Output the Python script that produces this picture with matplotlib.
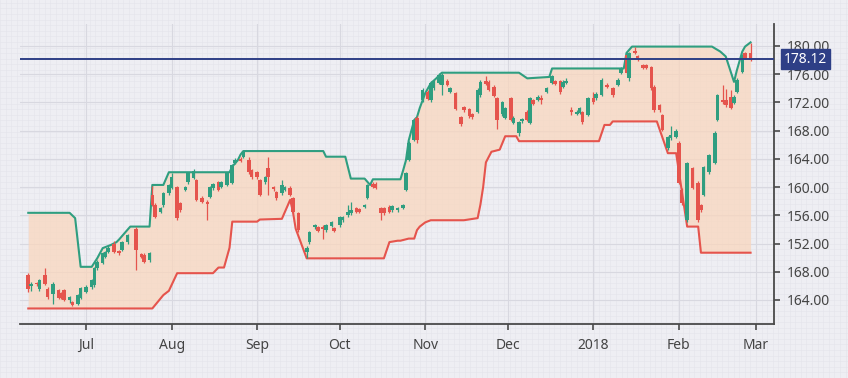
import matplotlib
matplotlib.use('Agg')
import matplotlib.pyplot as plt
import matplotlib.dates as mdates
import matplotlib.transforms as mtransforms
from matplotlib.ticker import MultipleLocator
import numpy as np
import pandas as pd

# --- candles ---
dates = ['2017-06-10', '2017-06-11', '2017-06-13', '2017-06-14', '2017-06-16', '2017-06-17',
         '2017-06-19', '2017-06-21', '2017-06-22', '2017-06-23', '2017-06-25', '2017-06-26',
         '2017-06-28', '2017-06-29', '2017-07-01', '2017-07-03', '2017-07-04', '2017-07-05',
         '2017-07-07', '2017-07-08', '2017-07-09', '2017-07-11', '2017-07-13', '2017-07-14',
         '2017-07-16', '2017-07-19', '2017-07-21', '2017-07-22', '2017-07-24', '2017-07-25',
         '2017-07-26', '2017-07-28', '2017-07-29', '2017-07-31', '2017-08-01', '2017-08-03',
         '2017-08-04', '2017-08-06', '2017-08-07', '2017-08-09', '2017-08-10', '2017-08-12',
         '2017-08-14', '2017-08-15', '2017-08-16', '2017-08-18', '2017-08-19', '2017-08-21',
         '2017-08-23', '2017-08-24', '2017-08-26', '2017-08-27', '2017-08-29', '2017-08-30',
         '2017-09-01', '2017-09-02', '2017-09-04', '2017-09-05', '2017-09-07', '2017-09-08',
         '2017-09-10', '2017-09-11', '2017-09-13', '2017-09-14', '2017-09-16', '2017-09-19',
         '2017-09-20', '2017-09-22', '2017-09-23', '2017-09-25', '2017-09-26', '2017-09-28',
         '2017-09-29', '2017-10-01', '2017-10-02', '2017-10-04', '2017-10-05', '2017-10-07',
         '2017-10-08', '2017-10-10', '2017-10-11', '2017-10-13', '2017-10-14', '2017-10-16',
         '2017-10-17', '2017-10-19', '2017-10-20', '2017-10-22', '2017-10-24', '2017-10-25',
         '2017-10-26', '2017-10-28', '2017-10-29', '2017-10-31', '2017-11-02', '2017-11-03',
         '2017-11-04', '2017-11-06', '2017-11-07', '2017-11-09', '2017-11-10', '2017-11-12',
         '2017-11-14', '2017-11-15', '2017-11-17', '2017-11-18', '2017-11-20', '2017-11-21',
         '2017-11-23', '2017-11-24', '2017-11-26', '2017-11-27', '2017-11-29', '2017-11-30',
         '2017-12-02', '2017-12-03', '2017-12-05', '2017-12-06', '2017-12-08', '2017-12-09',
         '2017-12-10', '2017-12-12', '2017-12-13', '2017-12-15', '2017-12-17', '2017-12-18',
         '2017-12-20', '2017-12-21', '2017-12-22', '2017-12-24', '2017-12-26', '2017-12-27',
         '2017-12-28', '2017-12-30', '2018-01-01', '2018-01-02', '2018-01-04', '2018-01-06',
         '2018-01-08', '2018-01-10', '2018-01-11', '2018-01-13', '2018-01-14', '2018-01-16',
         '2018-01-17', '2018-01-19', '2018-01-20', '2018-01-22', '2018-01-23', '2018-01-25',
         '2018-01-26', '2018-01-28', '2018-01-29', '2018-01-31', '2018-02-01', '2018-02-02',
         '2018-02-04', '2018-02-06', '2018-02-08', '2018-02-09', '2018-02-10', '2018-02-12',
         '2018-02-14', '2018-02-15', '2018-02-17', '2018-02-18', '2018-02-20', '2018-02-21',
         '2018-02-22', '2018-02-24', '2018-02-25', '2018-02-27']

opens = [147.5, 146.0, 146.3, 145.5, 147.5, 145.6, 144.8, 145.4, 145.0, 145.4, 144.0, 143.7,
         143.5, 144.3, 145.2, 145.8, 146.1, 148.5, 149.3, 150.1, 150.8, 152.0, 150.9, 151.1,
         152.2, 154.0, 150.5, 150.4, 149.6, 158.9, 157.5, 156.5, 157.4, 159.1, 159.9, 160.0,
         157.7, 159.6, 160.7, 161.3, 161.0, 158.5, 157.9, 158.6, 159.8, 160.7, 160.0, 160.3,
         160.6, 163.4, 164.0, 164.3, 163.9, 162.4, 162.1, 161.0, 160.7, 162.7, 160.0, 159.3,
         159.1, 159.6, 159.9, 158.4, 156.3, 150.8, 152.2, 154.3, 154.3, 154.3, 153.9, 154.5,
         154.2, 154.6, 155.3, 156.0, 156.3, 157.0, 156.9, 157.2, 158.5, 160.5, 160.5, 157.0,
         157.0, 157.2, 156.7, 156.7, 157.1, 159.6, 163.9, 166.7, 169.8, 172.3, 173.5, 172.3,
         174.0, 174.8, 174.5, 175.0, 173.5, 173.3, 169.9, 171.3, 171.0, 170.3, 170.7, 173.0,
         175.0, 174.9, 174.2, 172.6, 170.3, 169.8, 172.6, 169.1, 167.6, 169.3, 170.7, 169.1,
         172.3, 172.4, 172.5, 173.5, 174.8, 175.0, 175.0, 174.2, 174.8, 170.9, 170.4, 170.5,
         170.6, 170.2, 172.6, 172.6, 173.1, 174.5, 174.0, 174.5, 176.2, 178.7, 175.5, 179.3,
         178.5, 177.3, 177.3, 177.0, 174.2, 171.6, 170.2, 165.5, 166.9, 167.1, 166.3, 159.6,
         155.3, 162.7, 160.6, 157.4, 158.9, 162.1, 163.4, 169.5, 172.4, 172.3, 172.8, 171.9,
         173.5, 176.3, 179.0, 179.0]

highs = [147.8, 146.6, 146.5, 147.0, 148.6, 145.8, 146.5, 145.6, 145.2, 145.6, 144.6, 143.9,
         144.9, 145.9, 146.1, 147.0, 148.7, 149.6, 150.8, 151.0, 151.6, 152.3, 151.1, 152.4,
         153.4, 154.3, 150.7, 150.6, 150.8, 160.2, 157.8, 157.2, 159.3, 160.5, 162.0, 160.2,
         157.9, 160.2, 162.2, 162.5, 161.2, 158.7, 158.1, 160.2, 160.6, 160.9, 160.9, 162.2,
         163.3, 164.1, 164.2, 165.1, 164.2, 162.6, 162.3, 161.2, 161.6, 164.3, 160.2, 159.5,
         161.0, 160.2, 160.1, 158.6, 156.5, 151.6, 153.8, 154.8, 154.5, 154.6, 154.8, 155.2,
         154.4, 155.9, 155.9, 157.4, 157.9, 157.2, 157.1, 157.6, 160.5, 160.7, 160.7, 157.2,
         157.2, 157.4, 157.5, 157.2, 157.6, 162.2, 166.5, 169.7, 170.0, 174.0, 173.7, 175.0,
         175.1, 176.1, 176.2, 175.3, 174.2, 173.5, 170.1, 171.5, 171.2, 170.5, 174.0, 175.1,
         175.8, 175.1, 174.4, 172.8, 172.2, 171.4, 172.8, 170.0, 169.4, 169.8, 170.9, 172.8,
         172.5, 173.0, 173.1, 174.2, 175.9, 175.2, 175.2, 175.1, 175.4, 171.4, 170.9, 171.4,
         170.8, 172.8, 173.4, 173.4, 175.4, 174.7, 174.2, 175.4, 177.0, 178.9, 179.2, 179.9,
         178.7, 177.5, 177.5, 177.2, 174.4, 171.8, 170.4, 167.3, 168.6, 168.2, 166.5, 159.8,
         163.6, 162.9, 160.8, 157.6, 163.0, 164.7, 167.9, 173.2, 174.5, 173.9, 173.8, 173.0,
         175.4, 178.9, 179.2, 180.4]

lows = [145.2, 145.3, 146.0, 145.3, 146.1, 144.2, 143.5, 144.1, 144.1, 143.8, 143.6, 143.1,
        143.3, 144.1, 145.0, 145.6, 145.9, 148.3, 149.1, 149.9, 150.6, 150.6, 150.4, 150.9,
        152.0, 148.2, 149.9, 149.2, 149.4, 157.3, 155.6, 156.3, 157.2, 158.9, 159.7, 155.4,
        156.5, 159.4, 160.5, 161.1, 158.0, 157.7, 155.3, 158.4, 159.6, 159.4, 159.8, 160.1,
        160.4, 163.2, 163.5, 164.1, 161.9, 161.2, 161.2, 158.7, 160.5, 158.9, 159.5, 158.2,
        158.9, 159.4, 158.7, 156.3, 153.7, 150.0, 152.0, 154.1, 153.6, 152.6, 153.7, 154.3,
        153.6, 154.4, 155.1, 155.8, 156.1, 156.3, 156.3, 157.0, 158.3, 159.8, 159.7, 155.3,
        156.1, 156.3, 156.5, 156.5, 156.9, 159.4, 163.7, 166.5, 166.3, 172.1, 172.3, 172.1,
        173.8, 174.6, 173.0, 174.3, 173.3, 170.9, 168.7, 170.7, 169.8, 169.7, 170.5, 172.8,
        174.4, 173.6, 172.7, 168.2, 170.1, 169.6, 169.3, 168.9, 167.2, 169.1, 169.3, 168.9,
        171.6, 172.2, 171.8, 173.3, 174.6, 174.4, 173.2, 174.0, 174.6, 170.2, 170.2, 170.3,
        169.0, 170.0, 171.8, 172.4, 172.9, 174.0, 172.8, 174.3, 176.0, 176.0, 175.0, 178.8,
        177.9, 176.7, 176.7, 173.8, 170.7, 170.7, 167.9, 165.3, 166.7, 166.9, 160.4, 157.5,
        155.1, 159.7, 155.1, 156.5, 158.7, 161.9, 163.2, 169.3, 171.8, 171.4, 171.0, 171.7,
        173.3, 176.1, 178.1, 177.8]

closes = [145.5, 146.2, 146.2, 146.8, 146.3, 144.4, 146.3, 144.3, 144.3, 144.0, 144.4, 143.3,
          144.7, 145.7, 145.9, 146.8, 148.5, 149.4, 150.6, 150.8, 151.4, 150.8, 150.6, 152.2,
          153.2, 151.1, 150.1, 149.4, 150.6, 157.5, 155.8, 157.0, 159.1, 160.3, 161.4, 155.6,
          156.7, 160.0, 162.0, 162.3, 158.2, 157.9, 157.6, 160.0, 160.4, 159.6, 160.7, 162.0,
          163.1, 163.9, 163.7, 164.9, 162.1, 161.4, 161.4, 158.9, 161.4, 161.4, 159.7, 158.4,
          160.3, 160.0, 158.9, 156.5, 153.9, 151.4, 153.6, 154.6, 153.8, 154.0, 154.6, 155.0,
          153.8, 155.7, 155.7, 156.5, 156.7, 156.5, 156.5, 157.4, 160.3, 160.0, 159.9, 156.3,
          156.3, 156.5, 157.3, 157.0, 157.4, 162.0, 166.3, 169.5, 166.7, 173.8, 172.5, 174.8,
          174.9, 175.9, 175.9, 174.5, 174.0, 171.1, 168.9, 170.9, 170.0, 169.9, 173.8, 174.9,
          174.6, 173.8, 172.9, 169.5, 172.0, 171.2, 169.5, 169.8, 169.2, 169.6, 169.5, 172.6,
          171.8, 172.8, 172.4, 174.0, 175.7, 174.6, 173.4, 174.9, 175.0, 170.7, 170.7, 171.2,
          169.2, 172.6, 172.0, 173.2, 175.2, 174.2, 173.0, 175.2, 176.8, 176.2, 179.0, 179.0,
          178.1, 176.9, 176.9, 174.0, 170.9, 170.9, 168.1, 167.1, 167.4, 168.0, 160.6, 157.7,
          163.4, 159.9, 155.3, 156.7, 162.8, 164.5, 167.7, 173.0, 172.0, 171.6, 171.2, 172.8,
          175.2, 178.7, 178.3, 178.0]

# --- channel lines ---
channel_dates = ['2017-06-10', '2017-06-25', '2017-06-27', '2017-06-29', '2017-07-03', '2017-07-05',
                 '2017-07-07', '2017-07-10', '2017-07-12', '2017-07-13', '2017-07-17', '2017-07-24',
                 '2017-07-25', '2017-07-29', '2017-07-31', '2017-08-03', '2017-08-16', '2017-08-18',
                 '2017-08-20', '2017-08-22', '2017-08-23', '2017-08-25', '2017-08-26', '2017-08-27',
                 '2017-09-01', '2017-09-02', '2017-09-10', '2017-09-13', '2017-09-14', '2017-09-15',
                 '2017-09-17', '2017-09-19', '2017-09-25', '2017-09-26', '2017-10-03', '2017-10-05',
                 '2017-10-10', '2017-10-12', '2017-10-13', '2017-10-17', '2017-10-19', '2017-10-22',
                 '2017-10-23', '2017-10-24', '2017-10-25', '2017-10-26', '2017-10-28', '2017-10-29',
                 '2017-10-30', '2017-11-01', '2017-11-03', '2017-11-05', '2017-11-07', '2017-11-15',
                 '2017-11-20', '2017-11-21', '2017-11-22', '2017-11-23', '2017-11-25', '2017-11-28',
                 '2017-11-30', '2017-12-04', '2017-12-05', '2017-12-08', '2017-12-16', '2017-12-17',
                 '2018-01-03', '2018-01-05', '2018-01-07', '2018-01-08', '2018-01-12', '2018-01-13',
                 '2018-01-15', '2018-01-24', '2018-01-28', '2018-01-31', '2018-02-04', '2018-02-08',
                 '2018-02-09', '2018-02-13', '2018-02-16', '2018-02-18', '2018-02-21', '2018-02-22',
                 '2018-02-24', '2018-02-25', '2018-02-27']

upper = [156.35, 156.35, 155.6, 148.7, 148.7, 149.9, 151.35, 151.8, 152.2, 152.6, 154.4, 154.4,
         160.3, 160.3, 162.1, 162.1, 162.1, 162.1, 162.1, 162.1, 162.9, 163.8, 164.6, 165.1,
         165.1, 165.1, 165.1, 165.1, 165.1, 165.1, 165.1, 165.1, 165.1, 164.3, 164.3, 161.2,
         161.2, 160.3, 161.1, 161.1, 161.1, 161.1, 161.1, 162.4, 163.8, 166.6, 169.5, 169.9,
         171.2, 173.3, 174.7, 175.4, 176.2, 176.2, 176.2, 176.2, 176.2, 176.2, 176.2, 176.2,
         176.2, 176.2, 176.2, 175.4, 175.6, 176.8, 176.8, 176.8, 176.8, 176.8, 176.8, 179.0,
         179.9, 179.9, 179.9, 179.9, 179.9, 179.9, 179.9, 179.9, 179.2, 178.5, 174.9, 176.5,
         179.2, 179.9, 180.5]

lower = [142.8, 142.8, 142.8, 142.8, 142.8, 142.8, 142.8, 142.8, 142.8, 142.8, 142.8, 142.8,
         142.8, 144.7, 145.3, 147.8, 147.8, 148.6, 148.6, 151.4, 155.1, 155.1, 155.1, 155.1,
         155.1, 155.4, 155.5, 158.2, 156.5, 154.1, 152.0, 149.9, 149.9, 149.9, 149.9, 149.9,
         149.9, 149.9, 149.9, 149.9, 152.2, 152.4, 152.4, 152.5, 152.6, 152.7, 152.7, 153.9,
         154.4, 155.0, 155.3, 155.3, 155.3, 155.3, 155.6, 157.5, 160.0, 163.5, 165.0, 165.3,
         167.2, 167.2, 166.5, 166.5, 166.5, 166.5, 166.5, 168.8, 168.8, 169.3, 169.3, 169.3,
         169.3, 169.3, 164.8, 164.8, 154.4, 154.4, 150.7, 150.7, 150.7, 150.7, 150.7, 150.7,
         150.7, 150.7, 150.7]

last_price = 178.12

y_ticks = [144, 148, 152, 156, 160, 164, 168, 172, 176, 180]
y_labels = ['164.00', '168.00', '152.00', '156.00', '160.00', '164.00', '168.00', '172.00',
            '176.00', '180.00']
month_ticks = ['2017-07-01', '2017-08-01', '2017-09-01', '2017-10-01', '2017-11-01',
               '2017-12-01', '2018-01-01', '2018-02-01', '2018-03-01']
month_labels = ['Jul', 'Aug', 'Sep', 'Oct', 'Nov', 'Dec', '2018', 'Feb', 'Mar']

green = '#2F9E80'
red = '#E5544D'
navy = '#2E3F86'
bg = '#EEEEF3'

plt.rcParams['font.family'] = ['Noto Sans', 'DejaVu Sans']

fig = plt.figure(figsize=(8.48, 3.78), dpi=100)
fig.patch.set_facecolor(bg)

# fine graph-paper grid behind everything
bgax = fig.add_axes([0, 0, 1, 1], zorder=-5)
bgax.set_xlim(0, 848)
bgax.set_ylim(0, 378)
bgax.xaxis.set_major_locator(MultipleLocator(5.6))
bgax.yaxis.set_major_locator(MultipleLocator(5.6))
bgax.grid(True, color='#E4E4EB', lw=0.4)
bgax.tick_params(length=0, labelbottom=False, labelleft=False)
bgax.set_facecolor(bg)
for s in bgax.spines.values():
    s.set_visible(False)

ax = fig.add_axes([20 / 848, 54 / 378, 754 / 848, 300 / 378])
ax.patch.set_alpha(0)
ax.set_axisbelow(True)

cd = mdates.date2num(pd.to_datetime(channel_dates))
ax.fill_between(cd, lower, upper, color='#FAD6BC', alpha=0.72, lw=0, zorder=1)
ax.plot(cd, upper, color=green, lw=1.5, zorder=2, solid_joinstyle='round')
ax.plot(cd, lower, color=red, lw=1.5, zorder=2, solid_joinstyle='round')

d = mdates.date2num(pd.to_datetime(dates))
o = np.array(opens)
c = np.array(closes)
cols = np.where(c >= o, green, red)
ax.vlines(d, lows, highs, colors=cols, lw=0.9, zorder=3)
body = np.maximum(np.abs(c - o), 0.25)
ax.bar(d, body, bottom=np.minimum(o, c), width=1.3, color=cols, lw=0, zorder=4)

ax.axhline(last_price, color=navy, lw=1.4, zorder=5)
trans = mtransforms.blended_transform_factory(ax.transAxes, ax.transData)
ax.text(1.013, last_price, f'{last_price:.2f}', transform=trans, ha='left', va='center',
        color='white', fontsize=10,
        bbox=dict(boxstyle='square,pad=0.18', fc=navy, ec=navy), zorder=6, clip_on=False)

ax.set_xlim(mdates.date2num(pd.Timestamp('2017-06-07')),
            mdates.date2num(pd.Timestamp('2018-03-07 12:00')))
ax.set_ylim(140.6, 183.1)

ax.set_xticks(mdates.date2num(pd.to_datetime(month_ticks)))
ax.set_xticklabels(month_labels)
ax.yaxis.tick_right()
ax.set_yticks(y_ticks)
ax.set_yticklabels(y_labels)

ax.grid(True, color='#D8D8E0', lw=0.8)
for s in ['top', 'left']:
    ax.spines[s].set_visible(False)
for s in ['bottom', 'right']:
    ax.spines[s].set_color('#4A4A4A')
    ax.spines[s].set_linewidth(1.3)
ax.tick_params(axis='both', colors='#4A4A4A', labelcolor='#444444', labelsize=10,
               length=4, width=1.2)
ax.tick_params(axis='x', pad=6)
ax.tick_params(axis='y', pad=5)

fig.savefig('out.png', dpi=100, facecolor=bg)
